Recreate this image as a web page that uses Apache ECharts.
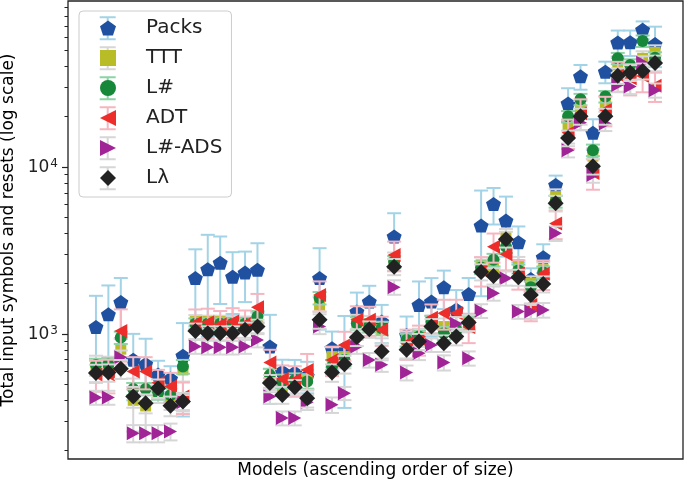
<!DOCTYPE html>
<html><head><meta charset="utf-8">
<script src="https://cdn.jsdelivr.net/npm/echarts@6/dist/echarts.min.js"></script>
<style>html,body{margin:0;padding:0;background:#fff}#c{width:685px;height:484px}</style>
</head><body><div id="c"></div>
<script>
// ---- data ----
const seriesNames = ['Packs', 'TTT', 'L#', 'ADT', 'L#-ADS', 'Lλ'];
const models = [1,2,3,4,5,6,7,8,9,10,11,12,13,14,15,16,17,18,19,20,21,22,23,24,25,26,27,28,29,30,31,32,33,34,35,36,37,38,39,40,41,42,43,44,45,46];

const packs    = [1100,1310,1550,700,660,570,540,740,2160,2440,2670,2200,2330,2420,840,595,586,560,2160,820,820,1360,1560,1185,3830,986,1490,1560,1900,1400,1730,4450,6000,4770,3540,2130,2880,7800,24000,34900,16000,37200,55700,55900,66300,54400];
const packsErr = [590,640,610,300,275,120,100,420,1050,1480,1160,885,780,1070,460,105,112,120,1100,212,460,407,380,306,1450,284,570,598,493,430,430,2770,1480,1870,860,340,560,1070,5600,5900,3300,5500,9900,9700,8100,14800];

const ttt      = [650,650,810,400,370,445,420,608,1185,1185,1185,1170,1170,1210,545,484,500,540,1490,731,731,1160,1150,1060,2770,920,963,1150,1106,1050,1160,2590,2500,3800,2590,2010,2420,6640,17200,22400,11600,24000,40800,37500,44700,48500];
const tttErr   = [90,80,120,140,120,60,70,90,110,100,100,110,100,120,70,60,60,70,180,100,110,140,130,120,300,110,110,140,130,120,140,280,300,450,300,200,260,700,1800,2400,1300,2600,4200,4000,4600,5000];

const lsharp   = [650,655,950,468,468,443,430,637,1148,1148,1148,1148,1148,1270,568,520,530,518,1640,637,700,1159,1120,1080,2700,920,963,1180,1010,1060,1159,2500,2775,3330,2400,1900,2330,6200,20100,25400,12600,26400,44700,40800,56800,45000];
const lsharpErr= [60,60,80,40,40,40,40,60,90,90,90,90,90,100,50,50,50,50,140,60,60,100,100,100,220,80,80,100,90,90,100,220,240,280,200,160,200,500,1500,2000,1000,2100,3500,3300,4500,3600];

const adt      = [570,570,1042,595,595,509,484,421,1160,1175,1140,1185,1150,1445,673,537,530,608,1712,698,859,1213,1213,1057,2970,880,930,1250,1330,1330,1100,2400,3330,3000,2300,1490,2290,4590,16000,21000,9200,21900,35400,34000,35000,30600];
const adtErr   = [120,130,360,130,130,100,100,90,240,240,230,240,230,290,130,110,110,150,350,140,170,250,240,210,600,180,190,250,270,270,220,480,660,600,460,300,460,900,3200,4400,1900,4400,7200,7200,7000,6100];

const lsharpAds    = [416,416,725,254,254,254,260,390,839,832,832,832,839,920,421,313,313,390,1106,376,441,839,698,652,1904,586,766,859,673,1150,715,1375,1750,2155,1360,1360,1390,4000,12600,18400,8940,18200,31000,30300,42000,28800];
const lsharpAdsErr = [40,40,70,30,30,30,30,40,80,80,80,80,80,90,40,30,30,40,110,40,40,80,70,60,190,60,70,80,70,110,70,130,170,210,130,130,140,400,1200,1800,900,1800,3000,3000,4000,2800];

const llambda    = [583,586,617,421,384,473,371,393,1042,1010,1010,1010,1057,1106,507,431,479,412,1213,586,658,955,1067,784,2527,802,899,1106,879,963,1169,2350,2225,3690,2180,1712,1990,6060,14900,20100,10100,20100,35200,36700,37500,41900];
const llambdaErr = [70,70,80,60,50,60,50,50,110,100,100,100,110,110,60,50,50,50,140,70,80,110,120,90,280,90,100,120,100,110,130,260,250,400,240,190,220,650,1600,2200,1100,2200,3800,4000,4100,4500];

const yTickValues = [1000, 10000];
const yMinorTickValues = [200,300,400,500,600,700,800,900,2000,3000,4000,5000,6000,7000,8000,9000,20000,30000,40000,50000,60000,70000,80000,90000];

// ---- styling ----
const FONT = 'DejaVu Sans';
const Y_MIN = 178, Y_MAX = 98600;
const PENTAGON = 'path://M50,0 L97.55,34.55 L79.39,90.45 L20.61,90.45 L2.45,34.55 Z';
const TRI_LEFT = 'path://M0,50 L100,0 L100,100 Z';
const TRI_RIGHT = 'path://M0,0 L100,50 L0,100 Z';
const styles = [
  {vals: packs,      err: packsErr,     color: '#2050a0', ecolor: '#a3d3e6', symbol: PENTAGON,  size: [15, 14], rotate: 0,   icon: PENTAGON},
  {vals: ttt,        err: tttErr,       color: '#b8bc26', ecolor: '#d6d6d6', symbol: 'rect',    size: 11, rotate: 0,        icon: 'rect'},
  {vals: lsharp,     err: lsharpErr,    color: '#17873a', ecolor: '#8cd3a5', symbol: 'circle',  size: 12, rotate: 0,        icon: 'circle'},
  {vals: adt,        err: adtErr,       color: '#ec2d2a', ecolor: '#f6b6c0', symbol: 'triangle',size: [14, 13], rotate: 90, icon: TRI_LEFT},
  {vals: lsharpAds,  err: lsharpAdsErr, color: '#a02496', ecolor: '#d6d6d6', symbol: 'triangle',size: [14, 13], rotate: -90,icon: TRI_RIGHT},
  {vals: llambda,    err: llambdaErr,   color: '#222222', ecolor: '#d6d6d6', symbol: 'diamond', size: 16, rotate: 0,        icon: 'diamond'}
];

function errRender(color) {
  return function (params, api) {
    const x = api.value(0), v = api.value(1), e = api.value(2);
    let lo = v - e; if (lo <= Y_MIN) lo = Y_MIN;
    let hi = v + e; if (hi >= Y_MAX) hi = Y_MAX;
    const top = api.coord([x, hi]);
    const bot = api.coord([x, lo]);
    const cw = 7;
    const st = {stroke: color, lineWidth: 2, fill: null};
    return {type: 'group', children: [
      {type: 'line', shape: {x1: top[0], y1: top[1], x2: bot[0], y2: bot[1]}, style: st},
      {type: 'line', shape: {x1: top[0] - cw, y1: top[1], x2: top[0] + cw, y2: top[1]}, style: st},
      {type: 'line', shape: {x1: bot[0] - cw, y1: bot[1], x2: bot[0] + cw, y2: bot[1]}, style: st}
    ]};
  };
}

const series = [];
styles.forEach((s, k) => {
  series.push({
    type: 'custom', name: '_err' + k, z: 2 + 2 * k, silent: true, clip: true,
    renderItem: errRender(s.ecolor),
    encode: {x: 0, y: 1},
    data: models.map((m, i) => [i, s.vals[i], s.err[i]])
  });
  series.push({
    type: 'scatter', name: seriesNames[k], z: 3 + 2 * k,
    symbol: s.symbol, symbolSize: s.size, symbolRotate: s.rotate,
    itemStyle: {color: s.color, opacity: 1},
    data: models.map((m, i) => [i, s.vals[i]])
  });
});

// legend error-bar glyphs (decoration of the legend keys)
const legendGraphics = [];
styles.forEach((s, k) => {
  const cy = 28.3 + 30 * k;
  legendGraphics.push({
    type: 'polyline', x: 107.7, y: cy, z: 1,
    shape: {points: [[-8, -11], [8, -11], [0, -11], [0, 11], [-8, 11], [8, 11]]},
    style: {stroke: s.ecolor, lineWidth: 2, fill: null}
  });
});

const chart = echarts.init(document.getElementById('c'), null, {renderer: 'canvas'});
chart.setOption({
  animation: false,
  backgroundColor: '#ffffff',
  textStyle: {fontFamily: FONT},
  grid: {left: 68, right: 2, top: 1, bottom: 25, show: true, borderColor: '#222', borderWidth: 1.3, containLabel: false, outerBoundsMode: 'none'},
  xAxis: {
    type: 'value', min: -2.25, max: 47.25,
    axisLine: {show: false, onZero: false}, axisTick: {show: false}, axisLabel: {show: false}, splitLine: {show: false},
    name: 'Models (ascending order of size)', nameLocation: 'middle', nameGap: 3,
    nameTextStyle: {fontSize: 17, color: '#000', fontFamily: FONT, verticalAlign: 'top'}
  },
  yAxis: [{
    type: 'log', logBase: 10, min: Y_MIN, max: Y_MAX, position: 'left',
    axisLine: {show: false, onZero: false}, splitLine: {show: false},
    axisTick: {show: true, length: 6, customValues: yTickValues, lineStyle: {color: '#222', width: 1.2}},
    axisLabel: {
      show: true, customValues: yTickValues, margin: 10, color: '#222',
      formatter: v => '{b|10}{s|' + Math.round(Math.log10(v)) + '}',
      rich: {b: {fontSize: 17, fontFamily: FONT, color: '#222', lineHeight: 18, verticalAlign: 'bottom'},
             s: {fontSize: 12, fontFamily: FONT, color: '#222', lineHeight: 18, verticalAlign: 'top', padding: [0, 0, 6, 1]}}
    },
    name: 'Total input symbols and resets (log scale)', nameLocation: 'middle', nameGap: 40, nameRotate: 90,
    nameTextStyle: {fontSize: 17, color: '#000', fontFamily: FONT}
  }, {
    type: 'log', logBase: 10, min: Y_MIN, max: Y_MAX, position: 'left',
    axisLine: {show: false, onZero: false}, splitLine: {show: false}, axisLabel: {show: false},
    axisTick: {show: true, length: 3.5, customValues: yMinorTickValues, lineStyle: {color: '#222', width: 1}}
  }],
  legend: {
    data: seriesNames.map((n, k) => ({name: n, icon: styles[k].icon})),
    orient: 'vertical', left: 79, top: 11,
    padding: [7, 9, 9, 21], itemGap: 10, itemWidth: 16, itemHeight: 16,
    borderColor: '#cccccc', borderWidth: 1, borderRadius: 4, backgroundColor: 'rgba(255,255,255,0)',
    textStyle: {fontSize: 20, fontFamily: FONT, color: '#222', lineHeight: 20, padding: [0, 0, 0, 25]},
    z: 60
  },
  graphic: {elements: legendGraphics},
  series: series
});
</script></body></html>
